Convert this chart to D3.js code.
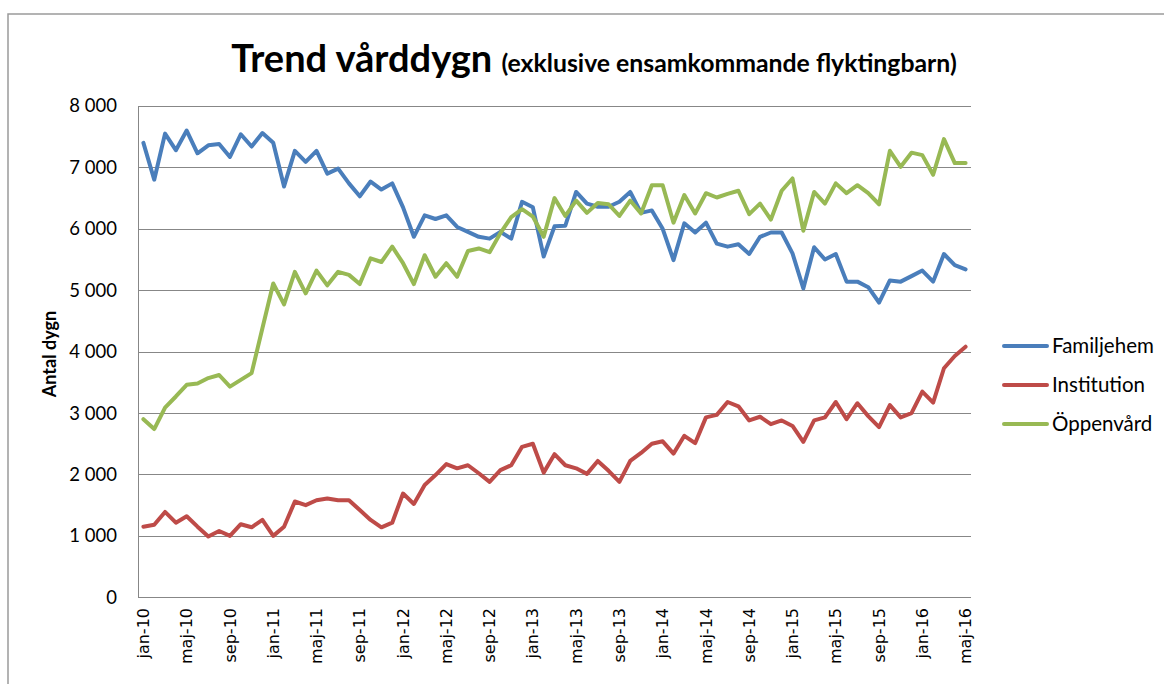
<!DOCTYPE html>
<html><head><meta charset="utf-8">
<script src="https://d3js.org/d3.v7.min.js"></script>
<style>
html,body{margin:0;padding:0;background:#fff;}
svg{display:block;}
</style></head>
<body>
<svg id="chart" width="1164" height="684"></svg>
<script>
const monthNames = ["jan","feb","mar","apr","maj","jun","jul","aug","sep","okt","nov","dec"];
const years = ["10","11","12","13","14","15","16"];
const categories = [];
years.forEach(y => monthNames.forEach((m, i) => { if (!(y === "16" && i > 4)) categories.push(m + "-" + y); }));

const tickLabels = ["jan-10","maj-10","sep-10","jan-11","maj-11","sep-11","jan-12","maj-12","sep-12","jan-13","maj-13","sep-13","jan-14","maj-14","sep-14","jan-15","maj-15","sep-15","jan-16","maj-16"];
const yTicks = [0,1000,2000,3000,4000,5000,6000,7000,8000];

const familjehem = [
 7400,6800,7550,7280,7600,7230,7360,7380,7170,7540,7340,7560,
 7400,6690,7270,7090,7270,6900,6980,6740,6530,6770,6640,6740,
 6350,5870,6220,6160,6220,6030,5950,5870,5840,5950,5840,6440,
 6350,5550,6040,6050,6600,6410,6360,6360,6440,6600,6260,6300,
 6000,5490,6090,5940,6100,5760,5710,5750,5590,5870,5940,5940,
 5600,5030,5700,5500,5590,5140,5140,5050,4800,5160,5140,5230,
 5320,5140,5590,5410,5340];
const institution = [
 1150,1180,1390,1215,1320,1150,990,1080,1000,1190,1140,1260,
 1000,1150,1560,1500,1580,1610,1580,1580,1420,1260,1140,1215,
 1690,1520,1830,1990,2170,2100,2150,2020,1880,2070,2150,2450,
 2500,2030,2330,2150,2100,2010,2220,2060,1880,2220,2350,2500,
 2540,2340,2630,2510,2930,2970,3180,3110,2880,2940,2820,2880,
 2790,2530,2880,2930,3180,2900,3160,2950,2770,3130,2930,3000,
 3350,3170,3730,3930,4080];
const oppenvard = [
 2900,2740,3090,3270,3460,3480,3570,3620,3430,3540,3650,4380,
 5110,4770,5300,4950,5320,5080,5300,5250,5100,5520,5460,5710,
 5440,5100,5570,5220,5440,5220,5640,5680,5620,5930,6190,6320,
 6200,5870,6500,6210,6460,6260,6420,6400,6210,6460,6250,6710,
 6710,6100,6550,6250,6580,6510,6570,6620,6240,6410,6150,6620,
 6820,5970,6600,6410,6740,6580,6710,6580,6400,7270,7010,7240,
 7200,6880,7460,7070,7070];

const seriesNames = ["Familjehem","Institution","Öppenvård"];
const seriesValues = [familjehem, institution, oppenvard];
const colors = ["#4a7ebb","#be4b48","#98b954"];

const svg = d3.select("#chart");
const font = "Lato, 'Open Sans', sans-serif";

// outer frame
svg.append("rect").attr("x",8).attr("y",14).attr("width",1200).attr("height",700)
  .attr("fill","none").attr("stroke","#9a9a9a").attr("stroke-width",1.5);

const plotLeft = 138, plotRight = 971, plotTop = 106, plotBottom = 597.3;
const x = d3.scaleBand().domain(categories).range([plotLeft, plotRight]).padding(0);
const y = d3.scaleLinear().domain([0, 8000]).range([plotBottom, plotTop]);
const cx = d => x(d) + x.bandwidth()/2;

// gridlines
svg.append("g").selectAll("line").data(yTicks).join("line")
  .attr("x1", plotLeft).attr("x2", plotRight)
  .attr("y1", d => Math.round(y(d)) + 0.5).attr("y2", d => Math.round(y(d)) + 0.5)
  .attr("stroke", "#878787").attr("stroke-width", 1);

// y axis line
svg.append("line").attr("x1", plotLeft+0.5).attr("x2", plotLeft+0.5).attr("y1", plotTop).attr("y2", plotBottom)
  .attr("stroke","#878787").attr("stroke-width",1);

// y tick labels
const fmt = v => d3.format(",")(v).replace(/,/g, " ");
svg.append("g").selectAll("text").data(yTicks).join("text")
  .attr("x", 117).attr("y", d => y(d)).attr("dy","0.35em")
  .attr("text-anchor","end").attr("font-family", font).attr("font-size", 18.5).attr("fill","#000")
  .text(fmt);

// y title
svg.append("text").attr("transform","translate(56,354) rotate(-90)")
  .attr("text-anchor","middle").attr("font-family", font).attr("font-weight","bold")
  .attr("font-size", 18).text("Antal dygn");

// x tick labels
svg.append("g").selectAll("text").data(tickLabels).join("text")
  .attr("transform", d => `translate(${cx(d)},608) rotate(-90)`)
  .attr("text-anchor","end").attr("dy","0.35em")
  .attr("font-family","'DejaVu Sans', sans-serif").attr("font-size", 16).attr("fill","#000")
  .text(d => d);

// lines
const line = d3.line().x((d,i) => cx(categories[i])).y(d => y(d));
svg.append("g").selectAll("path").data(seriesValues).join("path")
  .attr("d", d => line(d)).attr("fill","none")
  .attr("stroke", (d,i) => colors[i]).attr("stroke-width", 4)
  .attr("stroke-linejoin","round").attr("stroke-linecap","round");

// legend
const lg = svg.append("g");
seriesNames.forEach((name, i) => {
  const ly = 346 + i*39;
  lg.append("line").attr("x1",1004).attr("x2",1047).attr("y1",ly).attr("y2",ly)
    .attr("stroke", colors[i]).attr("stroke-width",4).attr("stroke-linecap","round");
  lg.append("text").attr("x",1052).attr("y",ly).attr("dy","0.35em")
    .attr("font-family", font).attr("font-size", 20.5).text(name);
});

// title
const t = svg.append("text").attr("x", 594).attr("y", 72).attr("text-anchor","middle")
  .attr("font-family", font).attr("font-weight","bold");
t.append("tspan").attr("font-size", 38).text("Trend vårddygn ");
t.append("tspan").attr("font-size", 24.8).text("(exklusive ensamkommande flyktingbarn)");
</script>
</body></html>
